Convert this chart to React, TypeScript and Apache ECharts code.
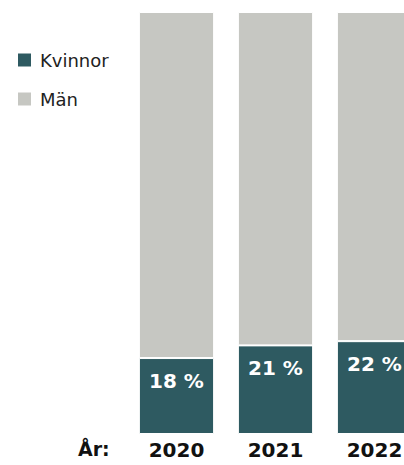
import React, { useEffect, useRef } from "react";
import * as echarts from "echarts";

const years = ["2020", "2021", "2022"];
const kvinnor = [18, 21, 22];
const man = [82, 79, 78];
const seriesNames = ["Kvinnor", "Män"];

export default function App() {
  const ref = useRef<HTMLDivElement>(null);
  useEffect(() => {
    const chart = echarts.init(ref.current!, null, { renderer: "svg" });
    const font = "'DejaVu Sans', sans-serif";
    chart.setOption({
      animation: false,
      textStyle: { fontFamily: font },
      grid: { left: 127, top: 12, right: 6, bottom: 31 },
      legend: {
        orient: "vertical",
        left: 16,
        top: 51,
        padding: 0,
        itemWidth: 15,
        itemHeight: 15,
        itemGap: 21,
        icon: "rect",
        data: seriesNames,
        textStyle: { fontSize: 18, color: "#222", fontFamily: font, padding: [0, 0, 0, 3] },
      },
      xAxis: {
        type: "category",
        data: years,
        axisLine: { show: false },
        axisTick: { show: false },
        axisLabel: { fontSize: 20, fontWeight: "bold", color: "#111", margin: 6, fontFamily: font },
      },
      yAxis: { type: "value", min: 0, max: 100, show: false },
      graphic: [
        {
          type: "text",
          left: 78,
          top: 439,
          style: { text: "År:", fontSize: 19, fontWeight: "bold", fill: "#111", fontFamily: font },
        },
      ],
      series: [
        {
          name: seriesNames[0],
          type: "bar",
          stack: "a",
          data: kvinnor,
          barCategoryGap: "24%",
          itemStyle: { color: "#2e5a61", borderColor: "#fff", borderWidth: 1 },
          label: {
            show: true,
            position: "insideTop",
            distance: 13,
            formatter: "{c} %",
            color: "#fff",
            fontSize: 20,
            fontWeight: "bold",
            fontFamily: font,
          },
        },
        {
          name: seriesNames[1],
          type: "bar",
          stack: "a",
          data: man,
          barCategoryGap: "24%",
          itemStyle: { color: "#c6c7c2", borderColor: "#fff", borderWidth: 1 },
        },
      ],
    });
    return () => chart.dispose();
  }, []);
  return (
    <div
      style={{ position: "fixed", left: 0, top: 0, width: 404, height: 465, overflow: "hidden", background: "#fff" }}
    >
      <div ref={ref} style={{ width: 430, height: 465 }} />
    </div>
  );
}
